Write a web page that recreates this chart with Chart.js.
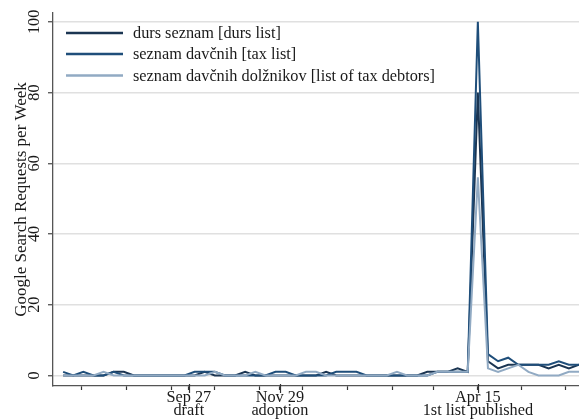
<!DOCTYPE html>
<html>
<head>
<meta charset="utf-8">
<script src="https://cdn.jsdelivr.net/npm/chart.js@4.4.1/dist/chart.umd.min.js"></script>
<style>
  html, body { margin: 0; padding: 0; background: #ffffff; }
  #wrap { width: 579px; height: 420px; }
</style>
</head>
<body>
<div id="wrap"><canvas id="c" width="579" height="420"></canvas></div>
<script>
// ---- data (weekly Google Trends, Jul 2014 – Jun 2015) ----
const weeks = [
  "2014-07-02","2014-07-09","2014-07-16","2014-07-23","2014-07-30",
  "2014-08-06","2014-08-13","2014-08-20","2014-08-27",
  "2014-09-03","2014-09-10","2014-09-17","2014-09-24",
  "2014-10-01","2014-10-08","2014-10-15","2014-10-22","2014-10-29",
  "2014-11-05","2014-11-12","2014-11-19","2014-11-26",
  "2014-12-03","2014-12-10","2014-12-17","2014-12-24","2014-12-31",
  "2015-01-07","2015-01-14","2015-01-21","2015-01-28",
  "2015-02-04","2015-02-11","2015-02-18","2015-02-25",
  "2015-03-04","2015-03-11","2015-03-18","2015-03-25",
  "2015-04-01","2015-04-08","2015-04-15","2015-04-22","2015-04-29",
  "2015-05-06","2015-05-13","2015-05-20","2015-05-27",
  "2015-06-03","2015-06-10","2015-06-17","2015-06-24"
];
const seriesNames = [
  "durs seznam [durs list]",
  "seznam davčnih [tax list]",
  "seznam davčnih dolžnikov [list of tax debtors]"
];
const dursSeznam = [
  0,0,0,0,0, 1,1,0,0, 0,0,0,0, 0,1,0,0,0, 1,0,0,0, 0,0,0,0,1,
  0,0,0,0, 0,0,0,0, 0,1,1,1, 2,1,80,4,2, 3,3,3,3, 2,3,2,3
];
const seznamDavcnih = [
  1,0,1,0,0, 1,0,0,0, 0,0,0,0, 1,1,1,0,0, 0,0,0,1, 1,0,0,0,0,
  1,1,1,0, 0,0,0,0, 0,0,1,1, 1,1,100,6,4, 5,3,3,3, 3,4,3,3
];
const seznamDolznikov = [
  0,0,0,0,1, 0,0,0,0, 0,0,0,0, 0,0,1,0,0, 0,1,0,0, 0,0,1,1,0,
  0,0,0,0, 0,0,1,0, 0,0,1,1, 1,1,56,2,1, 2,3,1,0, 0,0,1,1
];
const yTicks = [0, 20, 40, 60, 80, 100];
const minorTickDates = [
  "2014-07-15","2014-08-15","2014-09-15","2014-10-15","2014-11-15","2014-12-15",
  "2015-01-15","2015-02-15","2015-03-15","2015-05-15","2015-06-15"
];
const majorTickDates = ["2014-09-27", "2014-11-29", "2015-04-15"];
const majorTickLabels = [["Sep 27", "draft"], ["Nov 29", "adoption"], ["Apr 15", "1st list published"]];
const yTitle = "Google Search Requests per Week";

// ---- helpers ----
const origin = Date.parse(weeks[0]);
const dayOf = d => Math.round((Date.parse(d) - origin) / 864e5);
const xs = weeks.map(dayOf);
const toPts = arr => arr.map((v, i) => ({ x: xs[i], y: v }));
const majorDays = majorTickDates.map(dayOf);
const minorDays = minorTickDates.map(dayOf);

const FONT = "'Liberation Serif', 'Times New Roman', serif";
const FS = 16.3;
const TXT = '#1a1a1a';
const colors = ['#1b3552', '#1f4e7a', '#91aac3'];

const customDraw = {
  id: 'customDraw',
  afterDraw(chart) {
    const ctx = chart.ctx;
    const y = chart.scales.y, x = chart.scales.x;
    const area = chart.chartArea;
    ctx.save();
    // y tick labels, rotated
    ctx.fillStyle = TXT;
    ctx.font = FS + "px " + FONT;
    ctx.textAlign = 'center';
    ctx.textBaseline = 'middle';
    yTicks.forEach(v => {
      const py = y.getPixelForValue(v);
      ctx.save();
      ctx.translate(34.5, py);
      ctx.rotate(-Math.PI / 2);
      ctx.fillText(String(v), 0, 0);
      ctx.restore();
    });
    // longer major tick marks
    ctx.strokeStyle = '#333';
    ctx.lineWidth = 1.2;
    majorDays.forEach(d => {
      const px = Math.round(x.getPixelForValue(d)) + 0.5;
      ctx.beginPath();
      ctx.moveTo(px, area.bottom - 2);
      ctx.lineTo(px, area.bottom + 7);
      ctx.stroke();
    });
    // legend inside plot
    const rows = [33, 54, 75.5];
    chart.data.datasets.forEach((ds, i) => {
      ctx.strokeStyle = ds.borderColor;
      ctx.lineWidth = 2.5;
      ctx.beginPath();
      ctx.moveTo(66, rows[i]);
      ctx.lineTo(123, rows[i]);
      ctx.stroke();
      ctx.fillStyle = TXT;
      ctx.textAlign = 'left';
      ctx.textBaseline = 'middle';
      ctx.fillText(ds.label, 133, rows[i] + 1);
    });
    ctx.restore();
  }
};

new Chart(document.getElementById('c'), {
  type: 'line',
  data: {
    datasets: [
      { label: seriesNames[0], data: toPts(dursSeznam), borderColor: colors[0], borderWidth: 2, pointRadius: 0, tension: 0, order: 2 },
      { label: seriesNames[1], data: toPts(seznamDavcnih), borderColor: colors[1], borderWidth: 2, pointRadius: 0, tension: 0, order: 1 },
      { label: seriesNames[2], data: toPts(seznamDolznikov), borderColor: colors[2], borderWidth: 2, pointRadius: 0, tension: 0, order: 0 }
    ]
  },
  options: {
    responsive: false,
    animation: false,
    devicePixelRatio: 1,
    layout: { padding: { top: 13, right: 0, left: 0, bottom: 0 } },
    plugins: { legend: { display: false }, tooltip: { enabled: false } },
    scales: {
      x: {
        type: 'linear',
        min: -7,
        max: 357,
        afterBuildTicks: s => {
          const vals = Array.from(new Set(minorDays.concat(majorDays))).sort((a, b) => a - b);
          s.ticks = vals.map(v => ({ value: v }));
        },
        afterFit: s => { s.height = 34; },
        ticks: {
          autoSkip: false,
          maxRotation: 0,
          minRotation: 0,
          padding: 1,
          color: TXT,
          font: { family: FONT, size: FS, lineHeight: 0.82 },
          callback: v => {
            const k = majorDays.indexOf(v);
            return k >= 0 ? majorTickLabels[k] : '';
          }
        },
        grid: { drawOnChartArea: false, drawTicks: true, tickLength: 4, tickColor: '#333', tickWidth: 1.2 },
        border: { display: true, color: '#555', width: 1.3 }
      },
      y: {
        type: 'linear',
        min: -3,
        max: 102.5,
        afterBuildTicks: s => { s.ticks = yTicks.map(v => ({ value: v })); },
        afterFit: s => { s.width = 53; },
        ticks: { display: false },
        grid: { color: '#e0e0e0', lineWidth: 1.5, tickColor: '#444', tickWidth: 1.2, tickLength: 5, drawTicks: true },
        border: { display: true, color: '#555', width: 1.3 },
        title: {
          display: true,
          text: yTitle,
          color: TXT,
          font: { family: FONT, size: 17 },
          padding: { top: 11, bottom: 0 }
        }
      }
    }
  },
  plugins: [customDraw]
});
</script>
</body>
</html>
